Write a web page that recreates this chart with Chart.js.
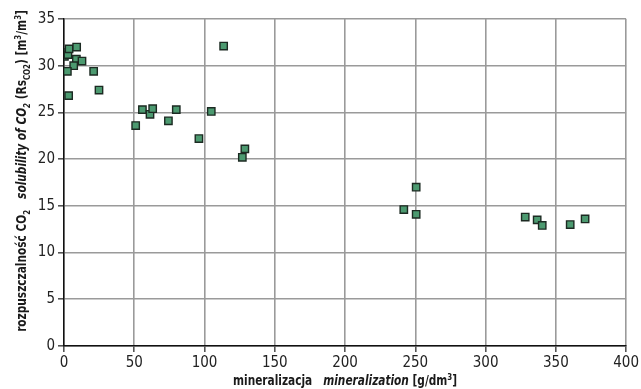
<!DOCTYPE html>
<html>
<head>
<meta charset="utf-8">
<script src="https://cdn.jsdelivr.net/npm/chart.js@4"></script>
<style>
  html, body { margin: 0; padding: 0; background: #fff; overflow: hidden; }
  canvas { display: block; }
</style>
</head>
<body>
<canvas id="co2" width="641" height="389"></canvas>
<script>
  // mineralization [g/dm3] and CO2 solubility [m3/m3]
  const mineralization = [
    0.3, 1.5, 2.8, 3.6, 9.0, 8.8, 12.8, 6.9, 2.4, 21.1, 24.9, 3.3,
    51, 55.8, 61.2, 63.1, 74.3, 79.9, 96, 104.8, 113.6, 126.9, 128.7,
    241.8, 250.6, 250.6, 328.2, 336.7, 340.3, 360.2, 370.8
  ];
  const solubility = [
    31.0, 31.4, 31.2, 31.8, 32.0, 30.7, 30.5, 30.0, 29.4, 29.4, 27.4, 26.8,
    23.6, 25.3, 24.8, 25.4, 24.1, 25.3, 22.2, 25.1, 32.1, 20.2, 21.1,
    14.6, 17.0, 14.1, 13.8, 13.5, 12.9, 13.0, 13.6
  ];

  const FONT = "'Liberation Sans Narrow', 'DejaVu Sans Condensed', 'Arial Narrow', sans-serif";

  // axis titles with mixed bold / italic / sub / sup parts
  const xTitle = [
    { t: 'mineralizacja   ', s: 'bold' },
    { t: 'mineralization', s: 'italic bold' },
    { t: ' [g/dm', s: 'bold' },
    { t: '3', s: 'bold', sup: true },
    { t: ']', s: 'bold' }
  ];
  const yTitle = [
    { t: 'rozpuszczalność CO', s: 'bold' },
    { t: '2', s: 'bold', sub: true },
    { t: '   ', s: 'bold' },
    { t: 'solubility of CO', s: 'italic bold' },
    { t: '2', s: 'italic bold', sub: true },
    { t: ' (Rs', s: 'bold' },
    { t: 'CO2', s: 'bold', sub: true },
    { t: ') [m', s: 'bold' },
    { t: '3', s: 'bold', sup: true },
    { t: '/m', s: 'bold' },
    { t: '3', s: 'bold', sup: true },
    { t: ']', s: 'bold' }
  ];

  function segFont(seg, size) {
    const sz = (seg.sub || seg.sup) ? Math.round(size * 0.7) : size;
    return seg.s + ' ' + sz + 'px ' + FONT;
  }

  // text squeezed a bit sideways, like the narrow font of the original
  function drawRich(ctx, segs, size, squeeze) {
    ctx.scale(squeeze, 1);
    let total = 0;
    segs.forEach(seg => { ctx.font = segFont(seg, size); total += ctx.measureText(seg.t).width; });
    let x = -total / 2;
    segs.forEach(seg => {
      ctx.font = segFont(seg, size);
      const dy = seg.sub ? size * 0.3 : seg.sup ? -size * 0.4 : 0;
      ctx.fillText(seg.t, x, dy);
      x += ctx.measureText(seg.t).width;
    });
  }

  const titlesPlugin = {
    id: 'richTitles',
    afterDraw(chart) {
      const { ctx, chartArea } = chart;
      ctx.save();
      ctx.fillStyle = '#1a1a1a';
      ctx.textBaseline = 'alphabetic';
      ctx.textAlign = 'left';
      ctx.save();
      ctx.translate((chartArea.left + chartArea.right) / 2, 385);
      drawRich(ctx, xTitle, 13.5, 0.87);
      ctx.restore();
      ctx.save();
      ctx.translate(26, 171);
      ctx.rotate(-Math.PI / 2);
      drawRich(ctx, yTitle, 13.5, 0.87);
      ctx.restore();
      ctx.restore();
    }
  };

  const points = mineralization.map((m, i) => ({ x: m, y: solubility[i] }));

  new Chart(document.getElementById('co2'), {
    type: 'scatter',
    data: {
      datasets: [{
        data: points,
        pointStyle: 'rect',
        pointRadius: 5.2,
        pointHoverRadius: 5.2,
        pointBackgroundColor: '#4c9a70',
        pointBorderColor: '#1c2a22',
        pointBorderWidth: 1.4
      }]
    },
    options: {
      responsive: false,
      animation: false,
      layout: { padding: { top: 19, right: 14, left: 0, bottom: 0 } },
      plugins: { legend: { display: false }, tooltip: { enabled: false } },
      scales: {
        x: {
          type: 'linear',
          min: 0, max: 400,
          ticks: { stepSize: 50, color: '#222', font: { family: FONT, size: 15 }, padding: 2, maxRotation: 0 },
          grid: { color: '#9a9a9a', lineWidth: 1.6, tickLength: 6, tickColor: '#555' },
          border: { color: '#111', width: 1.5 },
          afterFit(scale) { scale.height = 43; }
        },
        y: {
          min: 0, max: 35,
          ticks: { stepSize: 5, color: '#222', font: { family: FONT, size: 15 }, padding: 3 },
          grid: { color: '#9a9a9a', lineWidth: 1.6, tickLength: 6, tickColor: '#555' },
          border: { color: '#111', width: 1.5 },
          afterFit(scale) { scale.width = 64; }
        }
      }
    },
    plugins: [titlesPlugin]
  });
</script>
</body>
</html>
